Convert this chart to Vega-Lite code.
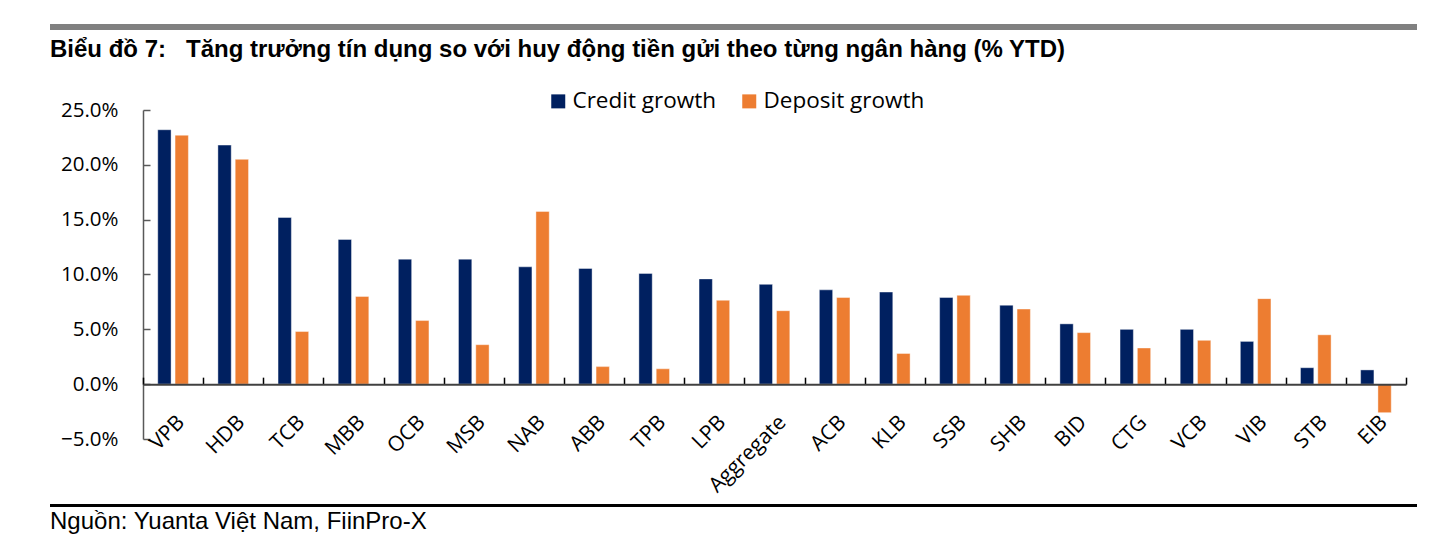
{
  "$schema": "https://vega.github.io/schema/vega-lite/v6.json",
  "padding": {"left": 50, "top": 24, "right": 0, "bottom": 0},
  "background": "white",
  "spacing": 8,
  "config": {
    "view": {"stroke": null},
    "font": "Open Sans"
  },
  "vconcat": [
    {
      "width": 1367,
      "height": 6,
      "view": {"fill": "#808080", "stroke": null},
      "data": {"values": []},
      "mark": "point"
    },
    {
      "width": 1367,
      "height": 329,
      "title": {
        "text": "Biểu đồ 7:\u00a0\u00a0\u00a0Tăng trưởng tín dụng so với huy động tiền gửi theo từng ngân hàng (% YTD)",
        "anchor": "start",
        "frame": "bounds",
        "font": "Liberation Sans",
        "fontSize": 24,
        "fontWeight": "bold",
        "color": "black",
        "offset": 38
      },
      "data": {
        "values": [
          {"bank": "VPB", "series": "Credit growth", "value": 0.232},
          {"bank": "VPB", "series": "Deposit growth", "value": 0.227},
          {"bank": "HDB", "series": "Credit growth", "value": 0.218},
          {"bank": "HDB", "series": "Deposit growth", "value": 0.205},
          {"bank": "TCB", "series": "Credit growth", "value": 0.152},
          {"bank": "TCB", "series": "Deposit growth", "value": 0.048},
          {"bank": "MBB", "series": "Credit growth", "value": 0.132},
          {"bank": "MBB", "series": "Deposit growth", "value": 0.080},
          {"bank": "OCB", "series": "Credit growth", "value": 0.114},
          {"bank": "OCB", "series": "Deposit growth", "value": 0.058},
          {"bank": "MSB", "series": "Credit growth", "value": 0.114},
          {"bank": "MSB", "series": "Deposit growth", "value": 0.036},
          {"bank": "NAB", "series": "Credit growth", "value": 0.107},
          {"bank": "NAB", "series": "Deposit growth", "value": 0.1575},
          {"bank": "ABB", "series": "Credit growth", "value": 0.1055},
          {"bank": "ABB", "series": "Deposit growth", "value": 0.016},
          {"bank": "TPB", "series": "Credit growth", "value": 0.101},
          {"bank": "TPB", "series": "Deposit growth", "value": 0.014},
          {"bank": "LPB", "series": "Credit growth", "value": 0.096},
          {"bank": "LPB", "series": "Deposit growth", "value": 0.0765},
          {"bank": "Aggregate", "series": "Credit growth", "value": 0.091},
          {"bank": "Aggregate", "series": "Deposit growth", "value": 0.067},
          {"bank": "ACB", "series": "Credit growth", "value": 0.086},
          {"bank": "ACB", "series": "Deposit growth", "value": 0.079},
          {"bank": "KLB", "series": "Credit growth", "value": 0.084},
          {"bank": "KLB", "series": "Deposit growth", "value": 0.028},
          {"bank": "SSB", "series": "Credit growth", "value": 0.079},
          {"bank": "SSB", "series": "Deposit growth", "value": 0.081},
          {"bank": "SHB", "series": "Credit growth", "value": 0.072},
          {"bank": "SHB", "series": "Deposit growth", "value": 0.0685},
          {"bank": "BID", "series": "Credit growth", "value": 0.055},
          {"bank": "BID", "series": "Deposit growth", "value": 0.047},
          {"bank": "CTG", "series": "Credit growth", "value": 0.050},
          {"bank": "CTG", "series": "Deposit growth", "value": 0.033},
          {"bank": "VCB", "series": "Credit growth", "value": 0.050},
          {"bank": "VCB", "series": "Deposit growth", "value": 0.040},
          {"bank": "VIB", "series": "Credit growth", "value": 0.039},
          {"bank": "VIB", "series": "Deposit growth", "value": 0.078},
          {"bank": "STB", "series": "Credit growth", "value": 0.015},
          {"bank": "STB", "series": "Deposit growth", "value": 0.045},
          {"bank": "EIB", "series": "Credit growth", "value": 0.013},
          {"bank": "EIB", "series": "Deposit growth", "value": -0.026}
        ]
      },
      "mark": {"type": "bar", "stroke": "white", "strokeWidth": 0.6, "strokeOpacity": 0.7},
      "encoding": {
        "x": {
          "field": "bank",
          "type": "nominal",
          "sort": null,
          "scale": {"paddingInner": 0, "paddingOuter": 0, "range": [93, 1356]},
          "axis": {
            "title": null,
            "orient": "bottom",
            "offset": -54.83,
            "zindex": 1,
            "labelAngle": -45,
            "labelFontSize": 21,
            "labelColor": "black",
            "labelPadding": 34,
            "tickBand": "extent",
            "tickSize": -7,
            "tickColor": "black",
            "tickWidth": 1.5,
            "domainColor": "#404040",
            "domainWidth": 2
          }
        },
        "xOffset": {
          "field": "series",
          "sort": ["Credit growth", "Deposit growth"],
          "scale": {"paddingInner": 0.23, "paddingOuter": 0.853}
        },
        "y": {
          "field": "value",
          "type": "quantitative",
          "scale": {"domain": [-0.05, 0.25], "nice": false, "zero": false},
          "axis": {
            "title": null,
            "grid": false,
            "offset": -93,
            "values": [-0.05, 0, 0.05, 0.1, 0.15, 0.2, 0.25],
            "format": ".1%",
            "labelFontSize": 20.5,
            "labelColor": "black",
            "labelPadding": 32,
            "tickSize": -7,
            "tickColor": "#595959",
            "tickWidth": 1.5,
            "domainColor": "#595959",
            "domainWidth": 1.5
          }
        },
        "color": {
          "field": "series",
          "type": "nominal",
          "sort": ["Credit growth", "Deposit growth"],
          "scale": {"domain": ["Credit growth", "Deposit growth"], "range": ["#002060", "#ED7D31"]},
          "legend": {
            "title": null,
            "orient": "none",
            "legendX": 497,
            "legendY": 66,
            "direction": "horizontal",
            "symbolType": "square",
            "symbolSize": 196,
            "symbolStrokeWidth": 0,
            "labelFontSize": 22.5,
            "labelLimit": 400,
            "labelColor": "black",
            "labelOffset": 3,
            "columnPadding": 21
          }
        }
      }
    },
    {
      "width": 1367,
      "height": 3,
      "view": {"fill": "black", "stroke": null},
      "data": {"values": []},
      "mark": "point",
      "title": {
        "text": "Nguồn: Yuanta Việt Nam, FiinPro-X",
        "orient": "bottom",
        "anchor": "start",
        "font": "Liberation Sans",
        "fontSize": 24,
        "fontWeight": "normal",
        "color": "black",
        "offset": 3
      }
    }
  ]
}
